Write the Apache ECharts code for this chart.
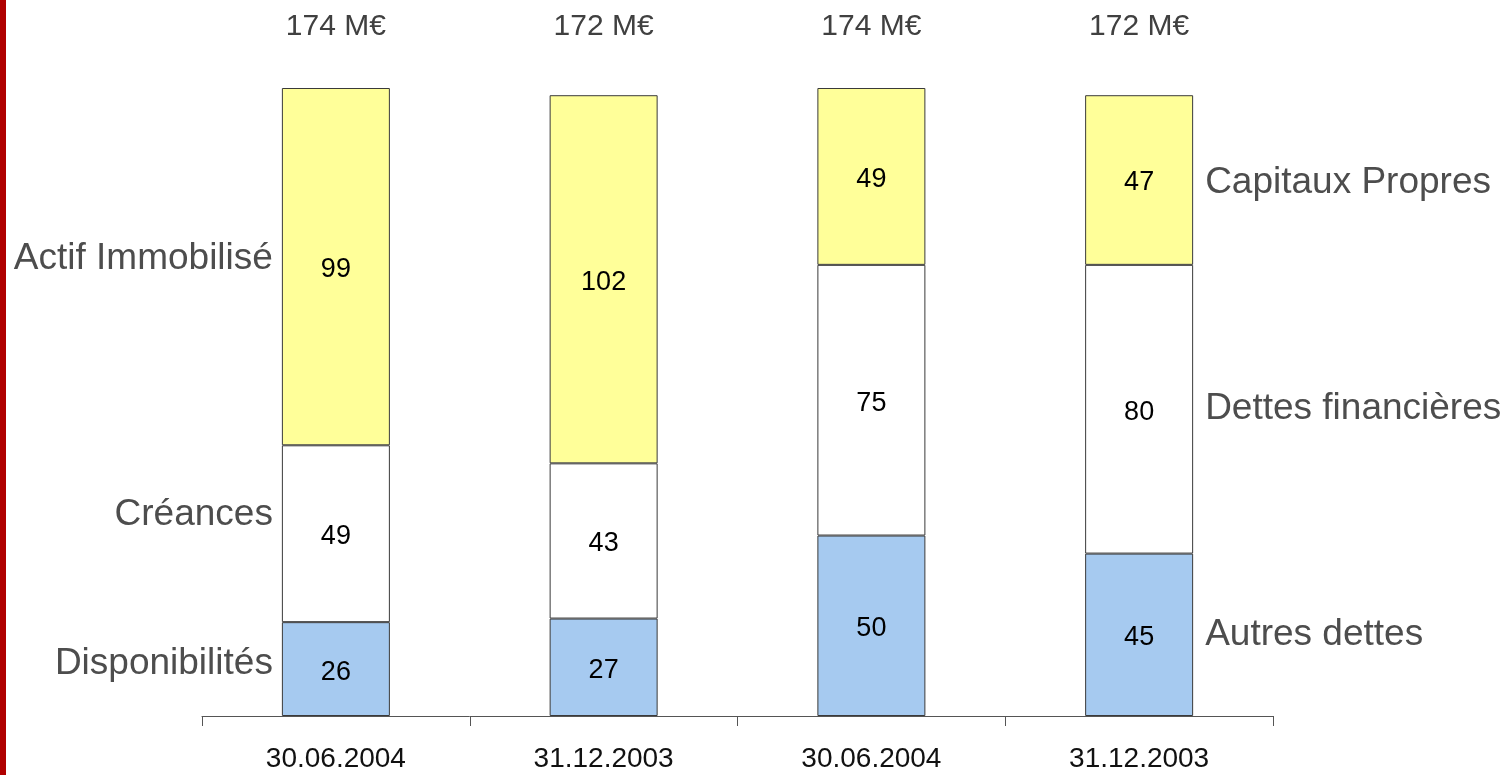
<!DOCTYPE html>
<html>
<head>
<meta charset="utf-8">
<title>Bilan simplifié</title>
<script src="https://cdn.jsdelivr.net/npm/echarts@6/dist/echarts.min.js"></script>
<style>
  html, body { margin: 0; padding: 0; background: #ffffff; }
  #chart { width: 1507px; height: 775px; }
</style>
</head>
<body>
<div id="chart"></div>
<script>
// Balance sheet: two asset columns, then two liability columns (M€)
const categories = ['30.06.2004', '31.12.2003', '30.06.2004', '31.12.2003'];

// Stack levels, bottom to top
const bottomValues = [26, 27, 50, 45];   // Disponibilités | Autres dettes
const middleValues = [49, 43, 75, 80];   // Créances | Dettes financières
const topValues    = [99, 102, 49, 47];  // Actif Immobilisé | Capitaux Propres

const assetNames     = ['Disponibilités', 'Créances', 'Actif Immobilisé'];
const liabilityNames = ['Autres dettes', 'Dettes financières', 'Capitaux Propres'];

const totals = categories.map((_, i) => bottomValues[i] + middleValues[i] + topValues[i]);
const totalLabels = totals.map(t => t + ' M€');

const FONT = "'Liberation Sans', Arial, Helvetica, sans-serif";

const chart = echarts.init(document.getElementById('chart'), null, { renderer: 'canvas' });

function stackSeries(name, values, color) {
  return {
    name: name,
    type: 'bar',
    stack: 'bilan',
    xAxisIndex: 0,
    yAxisIndex: 0,
    barWidth: 108,
    data: values,
    itemStyle: { color: color, borderColor: '#3a3a3a', borderWidth: 1 },
    label: {
      show: true,
      position: 'inside',
      offset: [0, 3],
      color: '#000000',
      fontFamily: FONT,
      fontSize: 27
    },
    emphasis: { disabled: true },
    animation: false
  };
}

const option = {
  backgroundColor: '#ffffff',
  animation: false,
  grid: { left: 202, right: 234, top: 88, bottom: 59, containLabel: false },
  xAxis: [
    {
      type: 'category',
      data: categories,
      position: 'bottom',
      axisLine: { show: true, lineStyle: { color: '#555555', width: 1 } },
      axisTick: { show: true, length: 10, lineStyle: { color: '#555555' } },
      axisLabel: { color: '#111111', fontFamily: FONT, fontSize: 28, margin: 29 },
      splitLine: { show: false }
    },
    {
      type: 'category',
      data: totalLabels,
      position: 'top',
      axisLine: { show: false },
      axisTick: { show: false },
      axisLabel: { color: '#404040', fontFamily: FONT, fontSize: 30, margin: 46 },
      splitLine: { show: false }
    }
  ],
  yAxis: {
    type: 'value',
    min: 0,
    max: 174,
    show: false,
    splitLine: { show: false }
  },
  series: [
    stackSeries('bas', bottomValues, '#A6CAF0'),
    stackSeries('milieu', middleValues, '#FFFFFF'),
    stackSeries('haut', topValues, '#FFFF99')
  ]
};

chart.setOption(option);

// Segment names beside the first asset column and the last liability column
function segmentMid(catIndex, level) {
  const levels = [bottomValues, middleValues, topValues];
  let base = 0;
  for (let k = 0; k < level; k++) base += levels[k][catIndex];
  return base + levels[level][catIndex] / 2;
}

function barEdges(catIndex) {
  const center = chart.convertToPixel({ xAxisIndex: 0, yAxisIndex: 0 }, [catIndex, 0])[0];
  return [center - 54, center + 54];
}

const leftShift = [-5, -19, -8];
const rightShift = [0, 0, 3];
const graphics = [
  // red strip along the left edge
  { type: 'rect', left: 0, top: 0, shape: { x: 0, y: 0, width: 6, height: 775 }, style: { fill: '#B00000' }, silent: true }
];

const firstEdges = barEdges(0);
const lastEdges = barEdges(categories.length - 1);

assetNames.forEach((name, level) => {
  const y = chart.convertToPixel({ xAxisIndex: 0, yAxisIndex: 0 }, [0, segmentMid(0, level)])[1];
  graphics.push({
    type: 'text',
    x: firstEdges[0] - 9,
    y: y + leftShift[level],
    silent: true,
    style: {
      text: name, fill: '#4d4d4d', font: '37px ' + FONT,
      textAlign: 'right', textVerticalAlign: 'middle'
    }
  });
});

liabilityNames.forEach((name, level) => {
  const ci = categories.length - 1;
  const y = chart.convertToPixel({ xAxisIndex: 0, yAxisIndex: 0 }, [ci, segmentMid(ci, level)])[1];
  graphics.push({
    type: 'text',
    x: lastEdges[1] + 12,
    y: y + rightShift[level],
    silent: true,
    style: {
      text: name, fill: '#4d4d4d', font: '37px ' + FONT,
      textAlign: 'left', textVerticalAlign: 'middle'
    }
  });
});

chart.setOption({ graphic: graphics });
</script>
</body>
</html>
